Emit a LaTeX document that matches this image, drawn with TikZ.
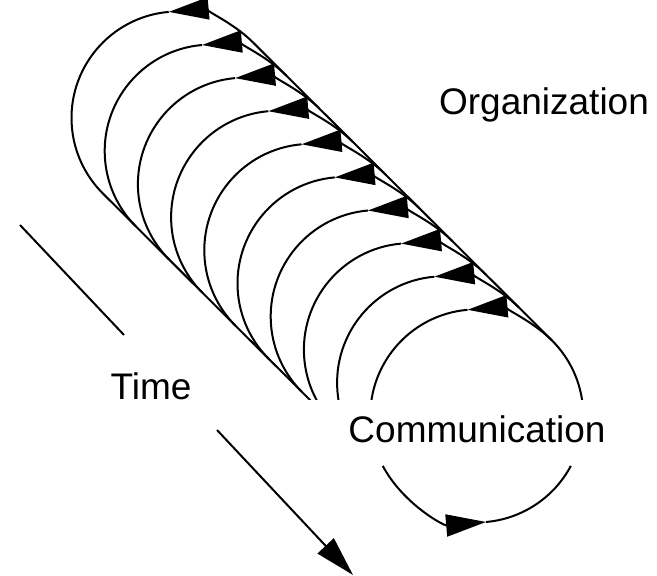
\documentclass[tikz,border=0pt]{standalone}
\usepackage{fontspec}
\setmainfont{Liberation Sans}
\usetikzlibrary{arrows.meta, calc}

\begin{document}
\begin{tikzpicture}[x=1pt, y=1pt, line width=2pt,
  head/.style={-{Triangle[length=40pt, width=22pt]}},
  lbl/.style={font=\fontsize{37}{40}\selectfont, inner sep=0pt, anchor=base}]
\useasboundingbox (0,0) rectangle (657,576);

% ring centres and the two touching points of each ring
\foreach \i in {0,...,9} {
  \coordinate (c\i) at (178+33.2*\i, 458-33.1*\i);
  \coordinate (top\i) at ($(c\i)+(45:106.5pt)$);
  \coordinate (bot\i) at ($(c\i)+(225:106.5pt)$);
}

% left halves, cut off above the label
\begin{scope}
\clip (0,176) rectangle (657,576);
\foreach \i in {0,...,9}
  \draw (c\i) ++(95:106.5pt) arc[start angle=95, end angle=225, radius=106.5pt];
\draw (c9) ++(0:106.5pt) arc[start angle=0, end angle=45, radius=106.5pt];
\draw (bot0) -- (bot9);
\end{scope}

% arrow tips on top
\foreach \i in {0,...,9}
  \draw[head] (top\i) arc[start angle=45, end angle=95, radius=106.5pt];
\draw (top0) -- (top9);

% lower part of last ring
\draw[head] (c9) ++(208:106.5pt) arc[start angle=208, end angle=275, radius=106.5pt];
\draw (c9) ++(275:106.5pt) arc[start angle=275, end angle=332, radius=106.5pt];

\node[lbl] (org)  at (544,461) {Organization};
\node[lbl] (time) at (151,176) {Time};
\node[lbl] (comm) at (477,133) {Communication};

% time axis
\coordinate (t0) at (20,351);
\coordinate (t1) at (124,241);
\coordinate (t2) at (217,146);
\coordinate (t3) at (353,1);
\draw (t0) -- (t1);
\draw[head] (t2) -- (t3);
\end{tikzpicture}
\end{document}
